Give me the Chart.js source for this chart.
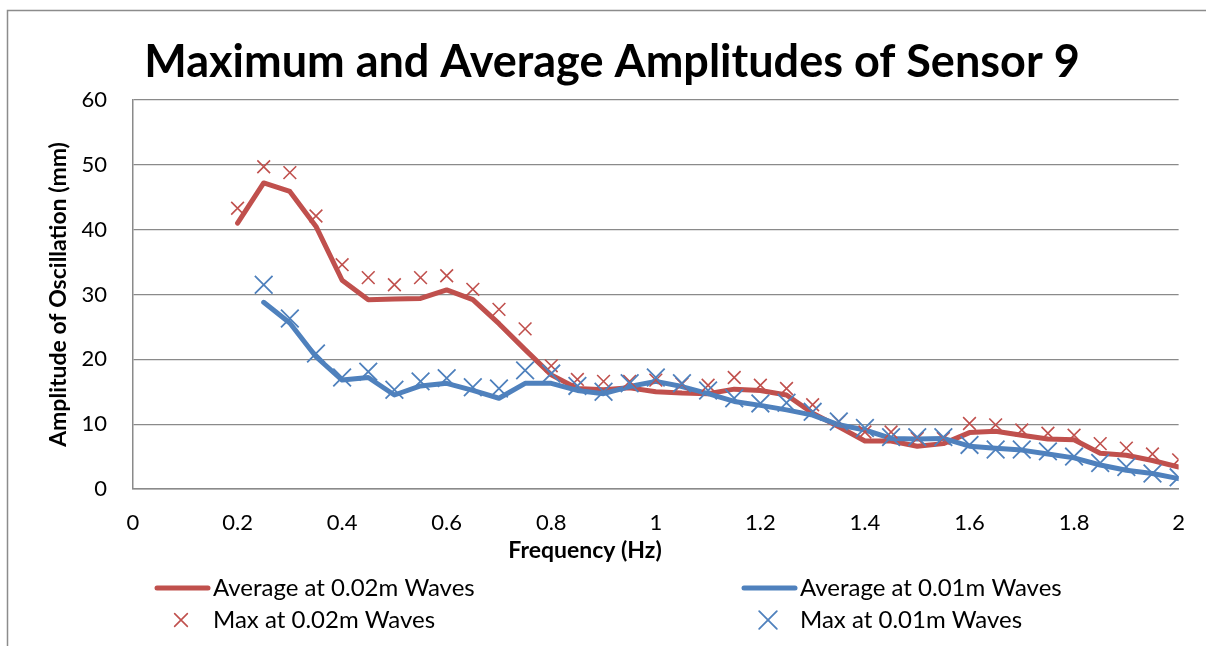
<!DOCTYPE html>
<html>
<head>
<meta charset="utf-8">
<script src="https://cdn.jsdelivr.net/npm/chart.js@4.4.1/dist/chart.umd.min.js"></script>
<style>
  html, body { margin: 0; padding: 0; background: #fff; }
  #wrap { width: 1206px; height: 646px; position: relative; }
</style>
</head>
<body>
<div id="wrap"><canvas id="chart" width="1206" height="646"></canvas></div>
<script>
// Frequencies (Hz)
const freq02 = [0.2, 0.25, 0.3, 0.35, 0.4, 0.45, 0.5, 0.55, 0.6, 0.65, 0.7, 0.75, 0.8, 0.85, 0.9, 0.95, 1.0,
    1.05, 1.1, 1.15, 1.2, 1.25, 1.3, 1.35, 1.4, 1.45, 1.5, 1.55, 1.6, 1.65, 1.7, 1.75, 1.8, 1.85, 1.9, 1.95, 2.0];
const freq01 = [0.25, 0.3, 0.35, 0.4, 0.45, 0.5, 0.55, 0.6, 0.65, 0.7, 0.75, 0.8, 0.85, 0.9, 0.95, 1.0,
    1.05, 1.1, 1.15, 1.2, 1.25, 1.3, 1.35, 1.4, 1.45, 1.5, 1.55, 1.6, 1.65, 1.7, 1.75, 1.8, 1.85, 1.9, 1.95, 2.0];

// Amplitudes (mm)
const avg02 = [41.0, 47.2, 45.9, 40.5, 32.2, 29.2, 29.3, 29.4, 30.7, 29.2, 25.5,
    21.5, 17.6, 15.5, 15.3, 15.6, 15.0, 14.8, 14.7, 15.4, 15.2,
    14.5, 11.7, 9.6, 7.4, 7.4, 6.6, 7.0, 8.7, 8.9, 8.3,
    7.7, 7.6, 5.5, 5.2, 4.4, 3.4];
const max02 = [43.3, 49.7, 48.8, 42.1, 34.6, 32.6, 31.5, 32.6, 32.9, 30.8, 27.7,
    24.7, 19.0, 16.9, 16.6, 16.6, 16.8, 16.2, 16.0, 17.2, 16.0,
    15.5, 13.0, 10.4, 8.8, 8.8, 7.8, 7.8, 10.1, 9.9, 9.1,
    8.6, 8.3, 7.0, 6.3, 5.4, 4.5];
const avg01 = [28.8, 25.6, 20.4, 16.8, 17.2, 14.5, 15.9, 16.3, 15.2, 14.0,
    16.3, 16.3, 15.2, 14.7, 15.8, 16.6, 15.8, 14.7, 13.5, 12.9,
    12.2, 11.4, 9.9, 9.1, 7.8, 7.7, 7.8, 6.6, 6.3, 6.0,
    5.4, 4.8, 3.7, 2.9, 2.4, 1.6];
const max01 = [31.5, 26.3, 20.9, 17.2, 18.1, 15.3, 16.6, 17.1, 15.7, 15.5,
    18.3, 17.8, 15.9, 15.0, 16.3, 17.2, 16.3, 15.2, 14.0, 13.2,
    13.3, 11.9, 10.4, 9.4, 8.0, 8.0, 8.0, 6.8, 6.1, 6.1,
    5.8, 5.0, 4.0, 3.4, 2.4, 1.8];

const seriesLabels = ['Average at 0.02m Waves', 'Average at 0.01m Waves', 'Max at 0.02m Waves', 'Max at 0.01m Waves'];
const xTitle = 'Frequency (Hz)';

const RED = '#C0504D';
const BLUE = '#4F81BD';
const GRID = '#8a8a8a';
const FONT = 'Lato, "Open Sans", sans-serif';

function toPoints(xs, ys) {
    return xs.map((x, i) => ({ x: x, y: ys[i] }));
}

// Outer chart frame (only left and top edges show)
const framePlugin = {
    id: 'frame',
    beforeDraw(chart) {
        const ctx = chart.ctx;
        ctx.save();
        ctx.strokeStyle = '#8c8c8c';
        ctx.lineWidth = 1.5;
        ctx.beginPath();
        ctx.moveTo(7.5, 646);
        ctx.lineTo(7.5, 10.5);
        ctx.lineTo(1206, 10.5);
        ctx.stroke();
        ctx.restore();
    }
};

// x axis title sits left of centre in the original, so draw it here
const xTitlePlugin = {
    id: 'xTitle',
    afterDraw(chart) {
        const ctx = chart.ctx;
        ctx.save();
        ctx.font = 'bold 23px ' + FONT;
        ctx.fillStyle = '#000';
        ctx.textAlign = 'center';
        ctx.textBaseline = 'middle';
        ctx.fillText(xTitle, 585, 551);
        ctx.restore();
    }
};

// Legend in two columns, two rows
const gridLegend = {
    id: 'gridLegend',
    afterDraw(chart) {
        const ctx = chart.ctx;
        const cols = [155, 742];
        const rows = [588, 620];
        ctx.save();
        ctx.font = '24px ' + FONT;
        ctx.textBaseline = 'middle';
        chart.data.datasets.forEach((ds, i) => {
            const x = cols[i % 2];
            const y = rows[Math.floor(i / 2)];
            ctx.strokeStyle = ds.borderColor;
            ctx.fillStyle = ds.borderColor;
            if (ds.showLine) {
                ctx.lineWidth = 5;
                ctx.lineCap = 'round';
                ctx.beginPath();
                ctx.moveTo(x + 2, y);
                ctx.lineTo(x + 53, y);
                ctx.stroke();
            } else {
                ctx.lineWidth = ds.borderWidth;
                Chart.helpers.drawPoint(ctx, {
                    pointStyle: 'crossRot',
                    radius: ds.pointRadius,
                    borderWidth: ds.borderWidth
                }, x + 26, y);
            }
            ctx.fillStyle = '#000';
            ctx.fillText(ds.label, x + 58, y);
        });
        ctx.restore();
    }
};

const ctx = document.getElementById('chart').getContext('2d');

new Chart(ctx, {
    type: 'scatter',
    data: {
        datasets: [{
            label: seriesLabels[0],
            data: toPoints(freq02, avg02),
            showLine: true,
            borderColor: RED,
            backgroundColor: RED,
            borderWidth: 5,
            pointRadius: 0,
            borderJoinStyle: 'round',
            borderCapStyle: 'round',
            order: 4
        }, {
            label: seriesLabels[1],
            data: toPoints(freq01, avg01),
            showLine: true,
            borderColor: BLUE,
            backgroundColor: BLUE,
            borderWidth: 5,
            pointRadius: 0,
            borderJoinStyle: 'round',
            borderCapStyle: 'round',
            order: 3
        }, {
            label: seriesLabels[2],
            data: toPoints(freq02, max02),
            showLine: false,
            pointStyle: 'crossRot',
            pointRadius: 9,
            borderWidth: 1.6,
            borderColor: RED,
            backgroundColor: RED,
            order: 2
        }, {
            label: seriesLabels[3],
            data: toPoints(freq01, max01),
            showLine: false,
            pointStyle: 'crossRot',
            pointRadius: 12.5,
            borderWidth: 1.8,
            borderColor: BLUE,
            backgroundColor: BLUE,
            order: 1
        }]
    },
    options: {
        responsive: false,
        animation: false,
        layout: {
            padding: { left: 18, right: 0, top: 0, bottom: 77 }
        },
        plugins: {
            legend: { display: false },
            tooltip: { enabled: false },
            title: {
                display: true,
                text: 'Maximum and Average Amplitudes of Sensor 9',
                color: '#000',
                font: { family: FONT, size: 45, weight: 'bold', lineHeight: 1.2 },
                padding: { top: 35, bottom: 11 }
            }
        },
        scales: {
            x: {
                type: 'linear',
                min: 0,
                max: 2,
                afterFit(scale) { scale.height = 80; },
                grid: { display: false, drawTicks: false },
                border: { display: true, color: GRID, width: 1.5 },
                ticks: {
                    stepSize: 0.2,
                    padding: 21,
                    color: '#000',
                    font: { family: FONT, size: 22 },
                    callback: v => Math.round(v * 10) / 10
                }
            },
            y: {
                min: 0,
                max: 60,
                afterFit(scale) { scale.width = 115; },
                grid: { color: GRID, lineWidth: 1.3, drawTicks: false },
                border: { display: true, color: GRID, width: 1.5 },
                ticks: {
                    stepSize: 10,
                    padding: 26,
                    color: '#000',
                    font: { family: FONT, size: 22 }
                },
                title: {
                    display: true,
                    text: 'Amplitude of Oscillation (mm)',
                    color: '#000',
                    font: { family: FONT, size: 23, weight: 'bold', lineHeight: 1.2 },
                    padding: { top: 27, bottom: 0 }
                }
            },
            // empty strip on the right so the plot stops short of the edge
            yRight: {
                position: 'right',
                min: 0,
                max: 60,
                afterFit(scale) { scale.width = 25; },
                grid: { display: false, drawTicks: false },
                border: { display: false },
                ticks: { display: false }
            }
        }
    },
    plugins: [framePlugin, xTitlePlugin, gridLegend]
});
</script>
</body>
</html>
